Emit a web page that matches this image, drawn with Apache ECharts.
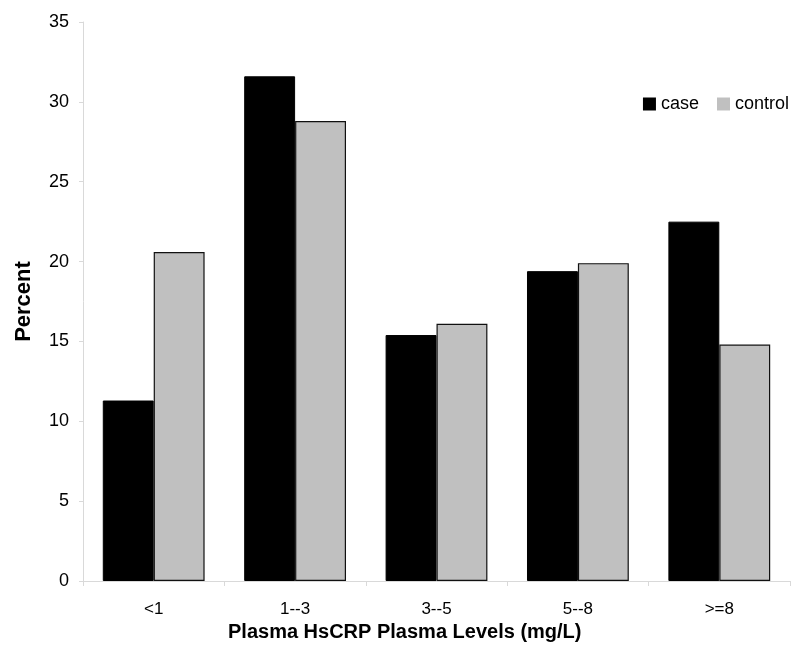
<!DOCTYPE html>
<html><head><meta charset="utf-8">
<script src="https://cdn.jsdelivr.net/npm/echarts@6/dist/echarts.min.js"></script>
<style>html,body{margin:0;padding:0;background:#fff}#c{width:800px;height:657px}</style>
</head><body><div id="c"></div>
<script>
const categories = ['<1', '1--3', '3--5', '5--8', '>=8'];
const caseValues = [11.3, 31.6, 15.4, 19.4, 22.5];
const controlValues = [20.6, 28.8, 16.1, 19.9, 14.8];
const yTicks = [0, 5, 10, 15, 20, 25, 30, 35];

const FONT = "'Liberation Sans', Arial, Helvetica, sans-serif";
const chart = echarts.init(document.getElementById('c'));
chart.setOption({
  animation: false,
  backgroundColor: '#fff',
  textStyle: { fontFamily: FONT },
  grid: { left: 83, right: 10, top: 22, bottom: 76 },
  legend: {
    data: ['case', 'control'],
    right: 6, top: 90,
    itemWidth: 13, itemHeight: 13, itemGap: 18,
    icon: 'rect',
    itemStyle: { borderWidth: 0 },
    textStyle: { fontSize: 18, color: '#000', fontFamily: FONT }
  },
  graphic: [{
    type: 'text', left: 228, top: 622,
    style: { text: 'Plasma HsCRP Plasma Levels (mg/L)', font: "bold 20px 'Liberation Sans', Arial, sans-serif", fill: '#000' }
  }],
  xAxis: {
    type: 'category', data: categories,
    axisLine: { lineStyle: { color: '#d9d9d9', width: 1 } },
    axisTick: { show: true, length: 5, lineStyle: { color: '#d9d9d9' } },
    axisLabel: { fontSize: 17, color: '#000', margin: 20, fontFamily: FONT }
  },
  yAxis: {
    type: 'value', min: 0, max: 35, interval: 5,
    name: 'Percent', nameLocation: 'middle', nameGap: 48,
    nameTextStyle: { fontSize: 22, fontWeight: 'bold', color: '#000', fontFamily: FONT },
    axisLine: { show: true, lineStyle: { color: '#d9d9d9', width: 1 } },
    axisTick: { show: true, length: 4, lineStyle: { color: '#d9d9d9' } },
    splitLine: { show: false },
    axisLabel: { fontSize: 18, color: '#000', margin: 14, fontFamily: FONT,
      formatter: v => yTicks.includes(v) ? String(v) : '' }
  },
  series: [
    { name: 'case', type: 'bar', data: caseValues, barGap: '0%', barCategoryGap: '28%',
      itemStyle: { color: '#000', borderColor: '#000', borderWidth: 1 } },
    { name: 'control', type: 'bar', data: controlValues, barGap: '0%', barCategoryGap: '28%',
      itemStyle: { color: '#c0c0c0', borderColor: '#111', borderWidth: 1.2 } }
  ]
});
</script></body></html>
